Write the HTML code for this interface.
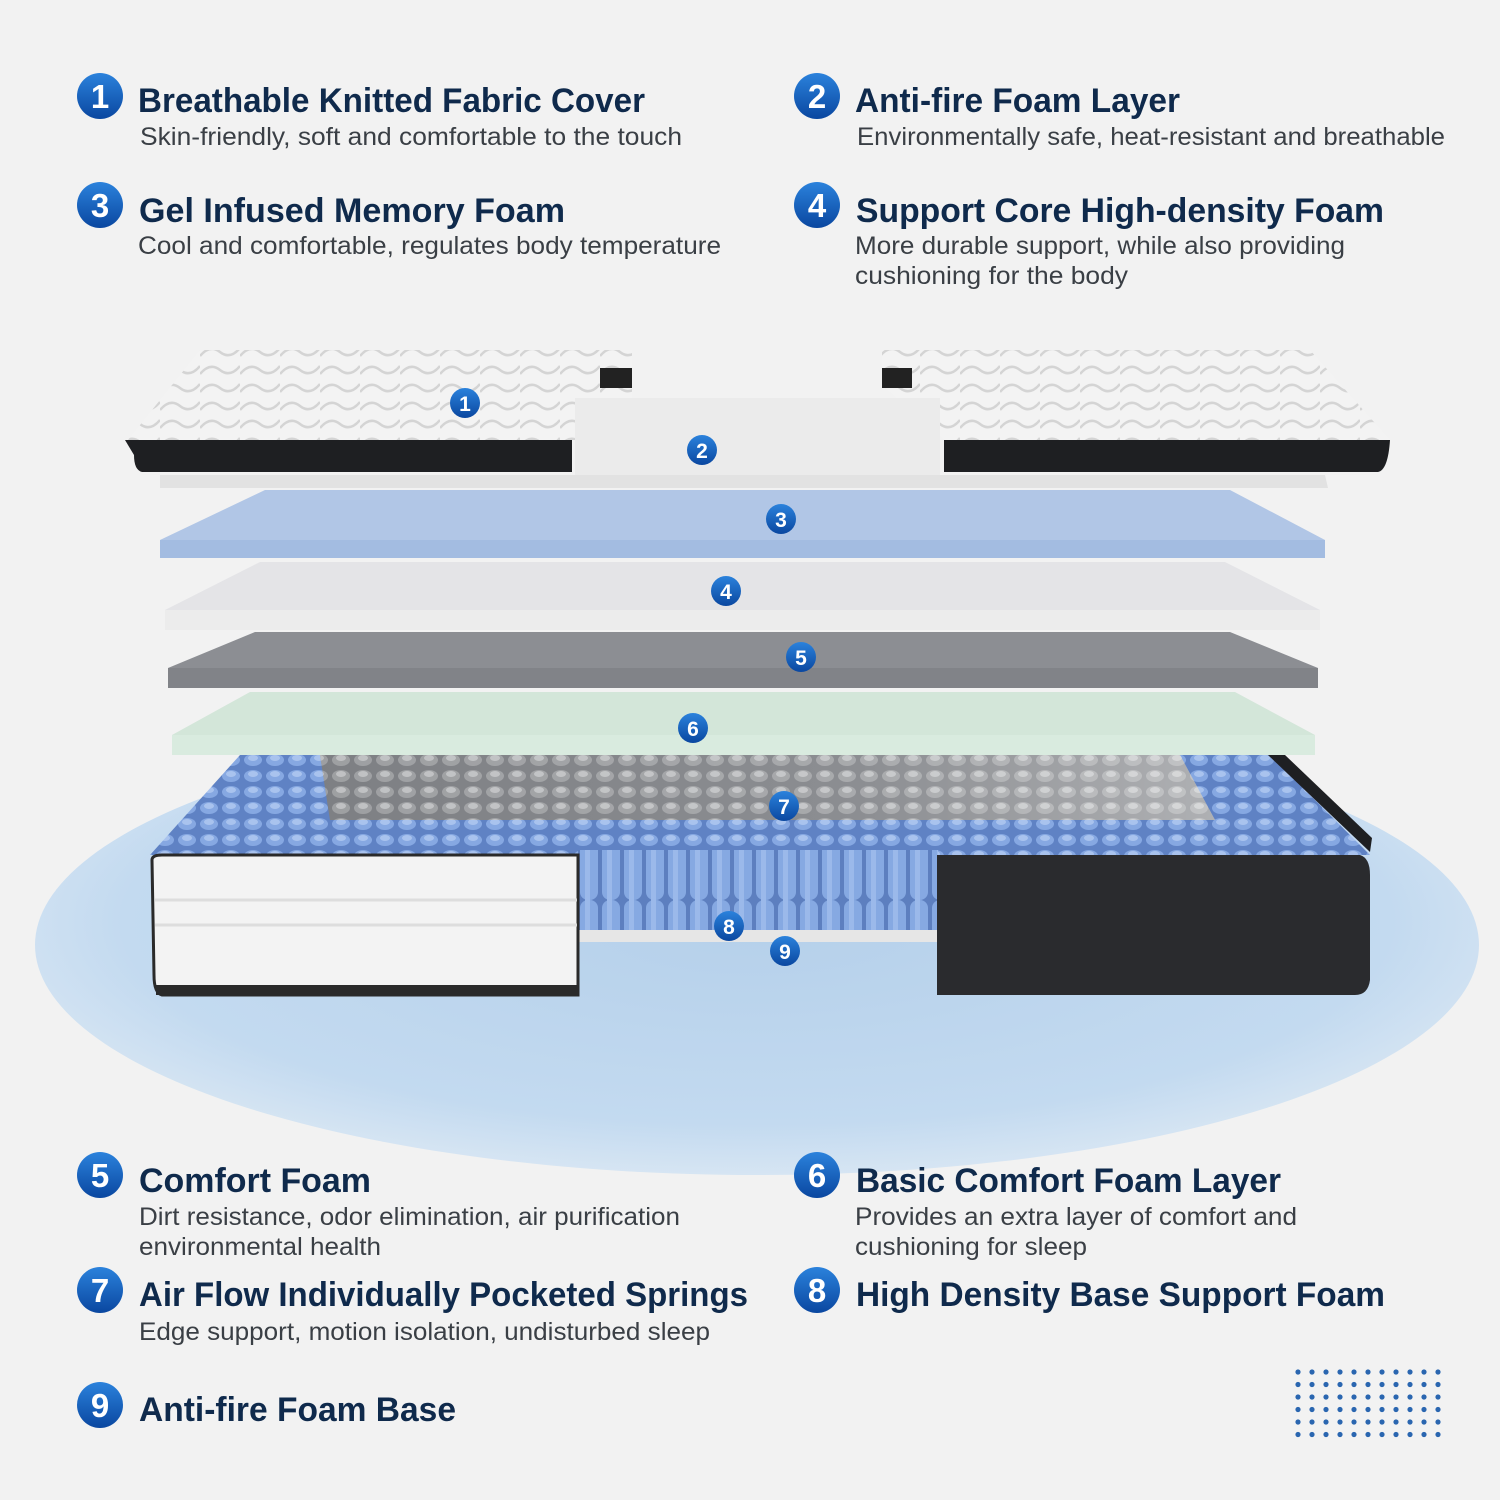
<!DOCTYPE html>
<html><head><meta charset="utf-8"><style>
html,body{margin:0;padding:0;background:#f2f2f2;}
svg{display:block}
.t{font-family:"Liberation Sans",sans-serif;font-size:34px;font-weight:bold;fill:#0f2a4c;}
.s{font-family:"Liberation Sans",sans-serif;font-size:25px;fill:#3a3f45;}
.bn{font-family:"Liberation Sans",sans-serif;font-weight:bold;fill:#fff;text-anchor:middle;}
</style></head><body>
<svg width="1500" height="1500" viewBox="0 0 1500 1500" xmlns="http://www.w3.org/2000/svg">
<defs>
<radialGradient id="el" cx="0.5" cy="0.45" r="0.55">
<stop offset="0" stop-color="#b5d0ea"/><stop offset="0.8" stop-color="#c3daf0"/><stop offset="1" stop-color="#d6e5f3"/></radialGradient>
<linearGradient id="bg" x1="0" y1="0" x2="0" y2="1"><stop offset="0" stop-color="#2b82dc"/><stop offset="1" stop-color="#0a47a0"/></linearGradient>
<linearGradient id="gr" x1="0" y1="0" x2="1" y2="0"><stop offset="0" stop-color="#7d7f83"/><stop offset="0.6" stop-color="#9a9ca0"/><stop offset="1" stop-color="#e0e1e3"/></linearGradient>
<pattern id="knit" width="40" height="18" patternUnits="userSpaceOnUse">
<rect width="40" height="18" fill="#f3f3f3"/><path d="M0 14 Q10 2 20 10 T40 6" stroke="#d4d4d4" stroke-width="2.5" fill="none"/></pattern>
<pattern id="top" width="22" height="16" patternUnits="userSpaceOnUse">
<rect width="22" height="16" fill="#5f82c4"/><ellipse cx="11" cy="8" rx="9" ry="6" fill="#86a8e2"/><ellipse cx="11" cy="6" rx="5" ry="3" fill="#a9c3ee"/></pattern>
<pattern id="topg" width="22" height="16" patternUnits="userSpaceOnUse">
<rect width="22" height="16" fill="#7e8084" fill-opacity="0.5"/><ellipse cx="11" cy="8" rx="9" ry="6" fill="#ffffff" fill-opacity="0.25"/><ellipse cx="11" cy="6" rx="5" ry="3" fill="#ffffff" fill-opacity="0.35"/></pattern>
<pattern id="front" width="22" height="100" patternUnits="userSpaceOnUse" x="578">
<rect width="22" height="100" fill="#5d7fbf"/><rect x="2" width="18" height="100" rx="8" fill="#86a9e2"/><rect x="7" width="5" height="100" fill="#9bb9ea"/></pattern>
</defs>
<rect width="1500" height="1500" fill="#f2f2f2"/>
<ellipse cx="757" cy="945" rx="722" ry="230" fill="url(#el)"/>

<!-- cover top pieces -->
<polygon points="128,440 200,350 632,350 632,440" fill="url(#knit)"/>
<rect x="600" y="368" width="32" height="20" fill="#222"/>
<path d="M125 440 L572 440 L572 472 L142 472 Q134 470 134 455 Z" fill="#1e1f22"/>
<polygon points="882,350 1310,350 1390,440 945,440 882,385" fill="url(#knit)"/>
<rect x="882" y="368" width="30" height="20" fill="#222"/>
<path d="M944 440 L1390 440 Q1388 470 1378 472 L944 472 Z" fill="#1e1f22"/>
<!-- layer 2 -->
<polygon points="160,475 1325,475 1328,488 160,488" fill="#e2e2e2"/>
<rect x="575" y="398" width="365" height="77" fill="#ebebeb"/>
<!-- layer 3 -->
<polygon points="160,540 265,490 1230,490 1325,540" fill="#b1c6e6"/>
<rect x="160" y="540" width="1165" height="18" fill="#a3bce1"/>
<!-- layer 4 -->
<polygon points="165,610 260,562 1225,562 1320,610" fill="#e4e4e7"/>
<rect x="165" y="610" width="1155" height="20" fill="#ececec"/>
<!-- layer 5 -->
<polygon points="168,668 255,632 1230,632 1318,668" fill="#8c8e93"/>
<rect x="168" y="668" width="1150" height="20" fill="#818388"/>
<!-- layer 6 -->
<polygon points="172,735 250,692 1235,692 1315,735" fill="#d3e6d9"/>
<rect x="172" y="735" width="1143" height="20" fill="#d9ebdf"/>
<!-- springs -->
<polygon points="150,855 240,755 1270,755 1370,855" fill="url(#top)"/>
<polygon points="330,820 320,755 1180,755 1215,820" fill="url(#gr)"/>
<polygon points="330,820 320,755 1180,755 1215,820" fill="url(#topg)"/>
<polygon points="1370,852 1268,755 1285,755 1372,838" fill="#1e1f22"/>
<rect x="578" y="850" width="360" height="90" fill="url(#front)"/>
<rect x="578" y="930" width="360" height="12" fill="#e6e6e6"/>
<!-- left block -->
<path d="M152 860 Q152 855 162 855 L578 855 L578 995 L162 995 Q154 993 154 975 Z" fill="#f3f3f3" stroke="#2a2a2a" stroke-width="3"/>
<line x1="155" y1="900" x2="577" y2="900" stroke="#ddd" stroke-width="3"/>
<line x1="155" y1="925" x2="577" y2="925" stroke="#ddd" stroke-width="3"/>
<rect x="156" y="985" width="422" height="10" fill="#2a2a2a"/>
<!-- right block -->
<path d="M937 855 L1360 855 Q1370 858 1370 875 L1370 980 Q1368 995 1355 995 L937 995 Z" fill="#2a2b2e"/>

<!-- small badges -->
<g>
<circle cx="465" cy="403" r="15" fill="url(#bg)"/><text class="bn" x="465" y="411" font-size="21">1</text>
<circle cx="702" cy="450" r="15" fill="url(#bg)"/><text class="bn" x="702" y="458" font-size="21">2</text>
<circle cx="781" cy="519" r="15" fill="url(#bg)"/><text class="bn" x="781" y="527" font-size="21">3</text>
<circle cx="726" cy="591" r="15" fill="url(#bg)"/><text class="bn" x="726" y="599" font-size="21">4</text>
<circle cx="801" cy="657" r="15" fill="url(#bg)"/><text class="bn" x="801" y="665" font-size="21">5</text>
<circle cx="693" cy="728" r="15" fill="url(#bg)"/><text class="bn" x="693" y="736" font-size="21">6</text>
<circle cx="784" cy="806" r="15" fill="url(#bg)"/><text class="bn" x="784" y="814" font-size="21">7</text>
<circle cx="729" cy="926" r="15" fill="url(#bg)"/><text class="bn" x="729" y="934" font-size="21">8</text>
<circle cx="785" cy="951" r="15" fill="url(#bg)"/><text class="bn" x="785" y="959" font-size="21">9</text>
</g>

<!-- big badges -->
<g>
<circle cx="100" cy="96" r="23" fill="url(#bg)"/><text class="bn" x="100" y="108" font-size="33">1</text>
<circle cx="817" cy="96" r="23" fill="url(#bg)"/><text class="bn" x="817" y="108" font-size="33">2</text>
<circle cx="100" cy="205" r="23" fill="url(#bg)"/><text class="bn" x="100" y="217" font-size="33">3</text>
<circle cx="817" cy="205" r="23" fill="url(#bg)"/><text class="bn" x="817" y="217" font-size="33">4</text>
<circle cx="100" cy="1175" r="23" fill="url(#bg)"/><text class="bn" x="100" y="1187" font-size="33">5</text>
<circle cx="817" cy="1175" r="23" fill="url(#bg)"/><text class="bn" x="817" y="1187" font-size="33">6</text>
<circle cx="100" cy="1290" r="23" fill="url(#bg)"/><text class="bn" x="100" y="1302" font-size="33">7</text>
<circle cx="817" cy="1290" r="23" fill="url(#bg)"/><text class="bn" x="817" y="1302" font-size="33">8</text>
<circle cx="100" cy="1405" r="23" fill="url(#bg)"/><text class="bn" x="100" y="1417" font-size="33">9</text>
</g>

<text class="t" x="138" y="112" textLength="507" lengthAdjust="spacingAndGlyphs">Breathable Knitted Fabric Cover</text>
<text class="s" x="140" y="145" textLength="542" lengthAdjust="spacingAndGlyphs">Skin-friendly, soft and comfortable to the touch</text>
<text class="t" x="855" y="112" textLength="325" lengthAdjust="spacingAndGlyphs">Anti-fire Foam Layer</text>
<text class="s" x="857" y="145" textLength="588" lengthAdjust="spacingAndGlyphs">Environmentally safe, heat-resistant and breathable</text>
<text class="t" x="139" y="222" textLength="426" lengthAdjust="spacingAndGlyphs">Gel Infused Memory Foam</text>
<text class="s" x="138" y="254" textLength="583" lengthAdjust="spacingAndGlyphs">Cool and comfortable, regulates body temperature</text>
<text class="t" x="856" y="222" textLength="528" lengthAdjust="spacingAndGlyphs">Support Core High-density Foam</text>
<text class="s" x="855" y="254" textLength="490" lengthAdjust="spacingAndGlyphs">More durable support, while also providing</text>
<text class="s" x="855" y="284" textLength="273" lengthAdjust="spacingAndGlyphs">cushioning for the body</text>

<text class="t" x="139" y="1192" textLength="232" lengthAdjust="spacingAndGlyphs">Comfort Foam</text>
<text class="s" x="139" y="1225" textLength="541" lengthAdjust="spacingAndGlyphs">Dirt resistance, odor elimination, air purification</text>
<text class="s" x="139" y="1255" textLength="242" lengthAdjust="spacingAndGlyphs">environmental health</text>
<text class="t" x="856" y="1192" textLength="425" lengthAdjust="spacingAndGlyphs">Basic Comfort Foam Layer</text>
<text class="s" x="855" y="1225" textLength="442" lengthAdjust="spacingAndGlyphs">Provides an extra layer of comfort and</text>
<text class="s" x="855" y="1255" textLength="232" lengthAdjust="spacingAndGlyphs">cushioning for sleep</text>
<text class="t" x="139" y="1306" textLength="609" lengthAdjust="spacingAndGlyphs">Air Flow Individually Pocketed Springs</text>
<text class="s" x="139" y="1340" textLength="571" lengthAdjust="spacingAndGlyphs">Edge support, motion isolation, undisturbed sleep</text>
<text class="t" x="856" y="1306" textLength="529" lengthAdjust="spacingAndGlyphs">High Density Base Support Foam</text>
<text class="t" x="139" y="1421" textLength="317" lengthAdjust="spacingAndGlyphs">Anti-fire Foam Base</text>

<g fill="#2a66b0">
<circle cx="1298" cy="1372" r="2.6"/><circle cx="1312" cy="1372" r="2.6"/><circle cx="1326" cy="1372" r="2.6"/><circle cx="1340" cy="1372" r="2.6"/><circle cx="1354" cy="1372" r="2.6"/><circle cx="1368" cy="1372" r="2.6"/><circle cx="1382" cy="1372" r="2.6"/><circle cx="1396" cy="1372" r="2.6"/><circle cx="1410" cy="1372" r="2.6"/><circle cx="1424" cy="1372" r="2.6"/><circle cx="1438" cy="1372" r="2.6"/>
<circle cx="1298" cy="1384.5" r="2.6"/><circle cx="1312" cy="1384.5" r="2.6"/><circle cx="1326" cy="1384.5" r="2.6"/><circle cx="1340" cy="1384.5" r="2.6"/><circle cx="1354" cy="1384.5" r="2.6"/><circle cx="1368" cy="1384.5" r="2.6"/><circle cx="1382" cy="1384.5" r="2.6"/><circle cx="1396" cy="1384.5" r="2.6"/><circle cx="1410" cy="1384.5" r="2.6"/><circle cx="1424" cy="1384.5" r="2.6"/><circle cx="1438" cy="1384.5" r="2.6"/>
<circle cx="1298" cy="1397" r="2.6"/><circle cx="1312" cy="1397" r="2.6"/><circle cx="1326" cy="1397" r="2.6"/><circle cx="1340" cy="1397" r="2.6"/><circle cx="1354" cy="1397" r="2.6"/><circle cx="1368" cy="1397" r="2.6"/><circle cx="1382" cy="1397" r="2.6"/><circle cx="1396" cy="1397" r="2.6"/><circle cx="1410" cy="1397" r="2.6"/><circle cx="1424" cy="1397" r="2.6"/><circle cx="1438" cy="1397" r="2.6"/>
<circle cx="1298" cy="1409.5" r="2.6"/><circle cx="1312" cy="1409.5" r="2.6"/><circle cx="1326" cy="1409.5" r="2.6"/><circle cx="1340" cy="1409.5" r="2.6"/><circle cx="1354" cy="1409.5" r="2.6"/><circle cx="1368" cy="1409.5" r="2.6"/><circle cx="1382" cy="1409.5" r="2.6"/><circle cx="1396" cy="1409.5" r="2.6"/><circle cx="1410" cy="1409.5" r="2.6"/><circle cx="1424" cy="1409.5" r="2.6"/><circle cx="1438" cy="1409.5" r="2.6"/>
<circle cx="1298" cy="1422" r="2.6"/><circle cx="1312" cy="1422" r="2.6"/><circle cx="1326" cy="1422" r="2.6"/><circle cx="1340" cy="1422" r="2.6"/><circle cx="1354" cy="1422" r="2.6"/><circle cx="1368" cy="1422" r="2.6"/><circle cx="1382" cy="1422" r="2.6"/><circle cx="1396" cy="1422" r="2.6"/><circle cx="1410" cy="1422" r="2.6"/><circle cx="1424" cy="1422" r="2.6"/><circle cx="1438" cy="1422" r="2.6"/>
<circle cx="1298" cy="1434.5" r="2.6"/><circle cx="1312" cy="1434.5" r="2.6"/><circle cx="1326" cy="1434.5" r="2.6"/><circle cx="1340" cy="1434.5" r="2.6"/><circle cx="1354" cy="1434.5" r="2.6"/><circle cx="1368" cy="1434.5" r="2.6"/><circle cx="1382" cy="1434.5" r="2.6"/><circle cx="1396" cy="1434.5" r="2.6"/><circle cx="1410" cy="1434.5" r="2.6"/><circle cx="1424" cy="1434.5" r="2.6"/><circle cx="1438" cy="1434.5" r="2.6"/>
</g>
</svg>
</body></html>
